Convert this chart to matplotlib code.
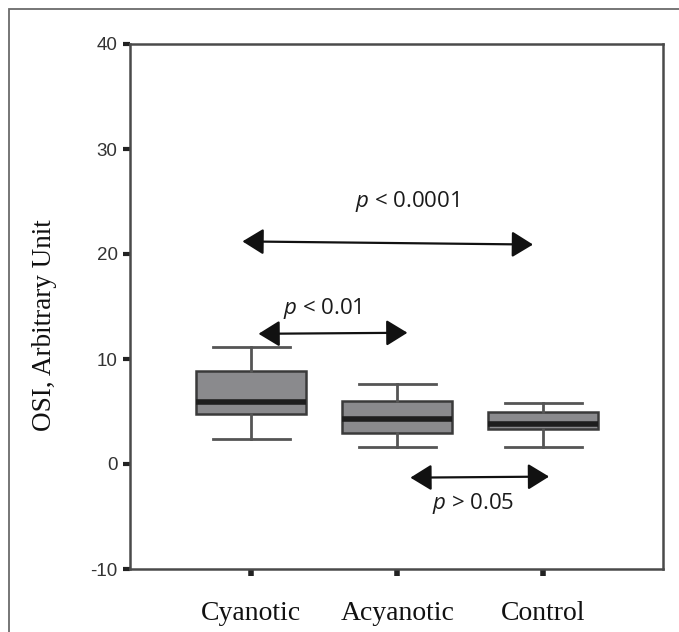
import matplotlib
matplotlib.use("Agg")
import matplotlib.pyplot as plt
from matplotlib.patches import Rectangle

# --- data ---
groups = ["Cyanotic", "Acyanotic", "Control"]
whislo = [2.4, 1.65, 1.65]
q1 = [4.8, 3.0, 3.35]
med = [5.9, 4.3, 3.85]
q3 = [8.9, 6.0, 4.95]
whishi = [11.1, 7.6, 5.8]

# comparison arrows: (x_start, y_start, x_end, y_end), label position, label
arrow_x0 = [0.94, 1.05, 2.09]
arrow_y0 = [21.2, 12.4, -1.3]
arrow_x1 = [2.93, 2.07, 3.04]
arrow_y1 = [20.9, 12.5, -1.2]
label_x = [2.07, 1.49, 2.52]
label_y = [25.0, 14.8, -3.8]
labels = ["< 0.0001", "< 0.01", "> 0.05"]

plt.rcParams['axes.unicode_minus'] = False
plt.rcParams['mathtext.fontset'] = 'custom'
plt.rcParams['mathtext.rm'] = 'Open Sans'
plt.rcParams['mathtext.it'] = 'Open Sans:italic'

fig = plt.figure(figsize=(6.79, 6.32), dpi=100)
ax = fig.add_axes([130 / 679, 1 - 569 / 632, 533 / 679, 525 / 632])

# outer frame around the whole figure
fig.patches.append(Rectangle((9 / 679, -0.05), 1.1, 1 - 9 / 632 + 0.05,
                             transform=fig.transFigure, fill=False,
                             edgecolor="#6b6b6b", linewidth=1.3))

stats = []
for i in range(len(groups)):
    stats.append(dict(label=groups[i], whislo=whislo[i], q1=q1[i], med=med[i],
                      q3=q3[i], whishi=whishi[i], fliers=[]))

ax.bxp(stats, positions=[1, 2, 3], widths=0.75, patch_artist=True,
       showfliers=False,
       boxprops=dict(facecolor="#8a8a8d", edgecolor="#3a3a3a", linewidth=1.8),
       medianprops=dict(color="#1e1e1e", linewidth=4, solid_capstyle="butt"),
       whiskerprops=dict(color="#555555", linewidth=2),
       capprops=dict(color="#555555", linewidth=2),
       capwidths=0.53)

for i in range(len(labels)):
    ax.annotate("", xy=(arrow_x1[i], arrow_y1[i]), xytext=(arrow_x0[i], arrow_y0[i]),
                arrowprops=dict(arrowstyle="<|-|>,head_length=0.65,head_width=0.4",
                                mutation_scale=20, color="#111111", lw=1.6,
                                shrinkA=0, shrinkB=0))
    ax.text(label_x[i], label_y[i], r"$p$ " + labels[i], ha="center", va="center",
            fontsize=16, family="Open Sans", color="#1a1a1a")

ax.set_xlim(0.17, 3.82)
ax.set_ylim(-10, 40)
ax.set_yticks([-10, 0, 10, 20, 30, 40])
ax.set_xticks([1, 2, 3])
ax.set_xticklabels(groups, family="Liberation Serif", fontsize=20, color="#111111")
for t in ax.get_yticklabels():
    t.set_family("Liberation Sans")
    t.set_fontsize(13.5)
    t.set_color("#333333")
ax.tick_params(axis="y", length=5, width=3, color="#222222", pad=4)
ax.tick_params(axis="x", length=5, width=4, color="#222222", pad=18)

for s in ax.spines.values():
    s.set_color("#4a4a4a")
    s.set_linewidth(1.8)

fig.text(45 / 679, 1 - 325 / 632, "OSI, Arbitrary Unit", rotation=90,
         ha="center", va="center", family="Liberation Serif", fontsize=19.5,
         color="#111111")

fig.savefig("out.png", dpi=100)
